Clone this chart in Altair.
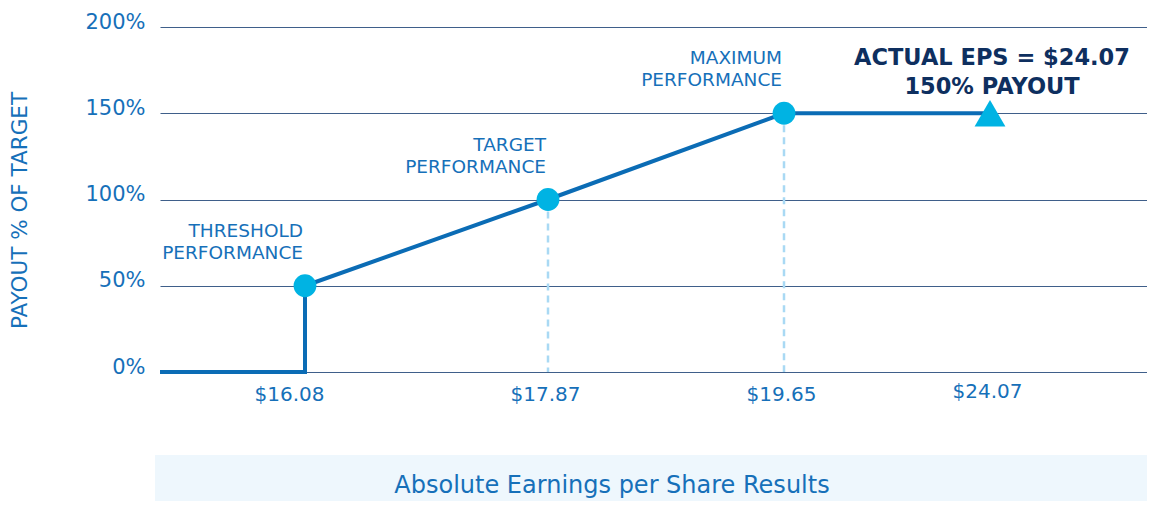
import altair as alt
import pandas as pd

# ---- data ----
eps_labels = ["$16.08", "$17.87", "$19.65", "$24.07"]
eps_slot = [1.45, 3.88, 6.24, 8.30]          # horizontal slot of each EPS tick (axis is not to scale)
x_start, x_end = 0.0, 9.87

milestones = ["THRESHOLD\nPERFORMANCE", "TARGET\nPERFORMANCE", "MAXIMUM\nPERFORMANCE"]
milestone_payout = [50, 100, 150]

payout_path_x = [x_start, eps_slot[0], eps_slot[0], eps_slot[1], eps_slot[2], eps_slot[3]]
payout_path_y = [0, 0, 50, 100, 150, 150]

actual_label = "ACTUAL EPS = $24.07\n150% PAYOUT"
actual_payout = 150

y_ticks = [0, 50, 100, 150, 200]

BLUE = "#0b6cb5"
LIGHT = "#00b3e3"
NAVY = "#0e2f5f"
TEXT = "#1670b9"
FONT = "DejaVu Sans"

W, H = 987, 345

path_df = pd.DataFrame({"x": payout_path_x, "y": payout_path_y, "o": range(len(payout_path_x))})
ms_df = pd.DataFrame({"x": eps_slot[:3], "y": milestone_payout, "label": milestones})
act_df = pd.DataFrame({"x": [eps_slot[3]], "y": [actual_payout], "label": [actual_label]})
drop_df = pd.DataFrame({"x": eps_slot[1:3], "y": milestone_payout[1:], "y0": [0, 0]})

lab_expr = "''"
for s, l in zip(eps_slot, eps_labels):
    lab_expr = f"abs(datum.value - {s}) < 0.01 ? '{l}' : " + lab_expr

xs = alt.Scale(domain=[x_start, x_end], nice=False, zero=False)
ys = alt.Scale(domain=[0, 200], nice=False)

x_axis = alt.Axis(values=eps_slot, labelExpr=lab_expr, title=None, grid=False, domain=False,
                  ticks=False, labelFontSize=20, labelColor=TEXT, labelFont=FONT,
                  labelPadding={"condition": {"test": f"datum.value > {eps_slot[2] + 0.5}", "value": 9},
                                "value": 12},
                  labelOffset={"condition": {"test": f"datum.value < {eps_slot[0] + 0.5}", "value": -16},
                               "value": -3})
y_axis = alt.Axis(values=y_ticks, labelExpr="datum.value + '%'", title="PAYOUT % OF TARGET",
                  grid=True, gridColor="#3f5f8a", gridWidth=1.1, domain=False, ticks=False,
                  labelPadding=15, labelFontSize=21, labelColor=TEXT, labelFont=FONT,
                  labelOffset=-5, titleFontSize=21.5, titleFontWeight="normal", titleColor=TEXT,
                  titleFont=FONT, titleX=-140, titleY=183, titleAlign="center",
                  titleBaseline="middle")

base_grid = alt.Chart(path_df).mark_line(opacity=0).encode(
    x=alt.X("x:Q", scale=xs, axis=x_axis),
    y=alt.Y("y:Q", scale=ys, axis=y_axis),
)

drops = alt.Chart(drop_df).mark_rule(color="#a9d9f4", strokeWidth=2.5, strokeDash=[7, 5]).encode(
    x=alt.X("x:Q", scale=xs), y=alt.Y("y:Q", scale=ys), y2="y0:Q"
)

line = alt.Chart(path_df).mark_line(color=BLUE, strokeWidth=4, strokeJoin="miter").encode(
    x=alt.X("x:Q", scale=xs), y=alt.Y("y:Q", scale=ys), order="o:Q"
)

pts = alt.Chart(ms_df).mark_circle(color=LIGHT, size=520, opacity=1).encode(
    x=alt.X("x:Q", scale=xs), y=alt.Y("y:Q", scale=ys)
)

ms_text = alt.Chart(ms_df).mark_text(align="right", baseline="middle", dx=-2, dy=-55,
                                     lineBreak="\n", lineHeight=22, fontSize=18.5,
                                     font=FONT, color=TEXT).encode(
    x=alt.X("x:Q", scale=xs), y=alt.Y("y:Q", scale=ys), text="label:N"
)

tri = alt.Chart(act_df).mark_point(shape="triangle-up", filled=True, color=LIGHT, size=950,
                                   opacity=1).encode(
    x=alt.X("x:Q", scale=xs), y=alt.Y("y:Q", scale=ys)
)

act_text = alt.Chart(act_df).mark_text(align="center", baseline="middle", dx=2, dy=-55,
                                       lineBreak="\n", lineHeight=29, fontSize=22.5,
                                       fontWeight="bold", font=FONT, color=NAVY).encode(
    x=alt.X("x:Q", scale=xs), y=alt.Y("y:Q", scale=ys), text="label:N"
)

box = alt.Chart(act_df).mark_rect(color="#eef7fd").encode(
    x=alt.value(-5), x2=alt.value(W), y=alt.value(428), y2=alt.value(500)
)
box_text = alt.Chart(act_df).mark_text(fontSize=24, font=FONT, color=TEXT, align="center",
                                       baseline="middle").encode(
    x=alt.value(452), y=alt.value(459), text=alt.value("Absolute Earnings per Share Results")
)

chart = alt.layer(base_grid, box, box_text, drops, line, pts, tri, ms_text, act_text).properties(
    width=W, height=H,
    autosize=alt.AutoSizeParams(type="none"),
    padding={"left": 152, "top": 19, "right": 0, "bottom": 129},
).configure_view(stroke=None)

chart.save("out.html", embed_options={"renderer": "svg", "actions": False})
